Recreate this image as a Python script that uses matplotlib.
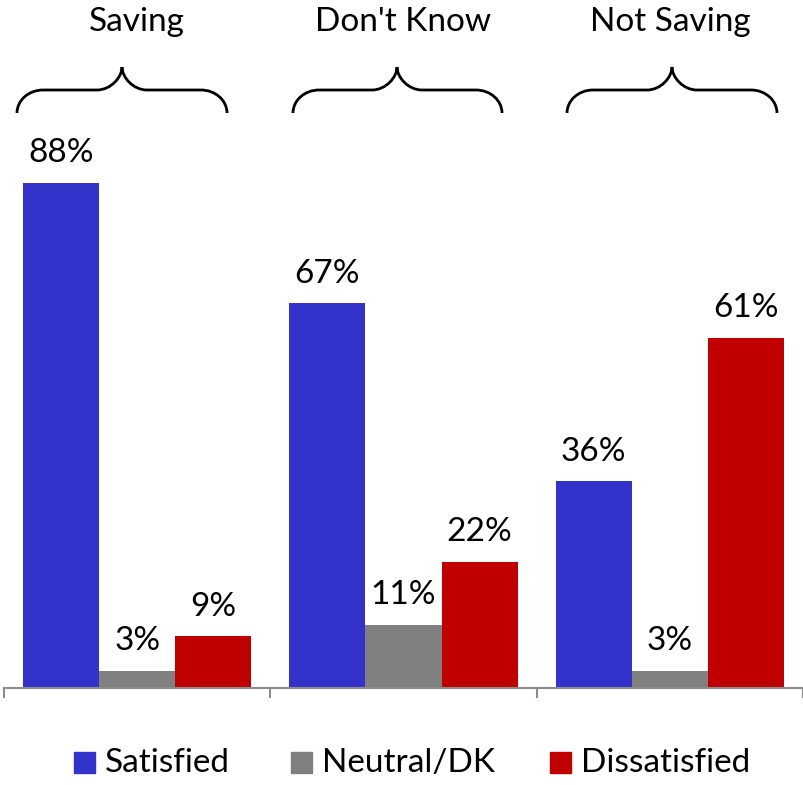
import numpy as np
import matplotlib
matplotlib.use("Agg")
from matplotlib import pyplot as plt
from matplotlib.path import Path
from matplotlib.patches import PathPatch, Rectangle

plt.rcParams['font.family'] = ['Lato', 'DejaVu Sans']

groups = ["Saving", "Don't Know", "Not Saving"]
series = ["Satisfied", "Neutral/DK", "Dissatisfied"]
satisfied = [88, 67, 36]
neutral = [3, 11, 3]
dissatisfied = [9, 22, 61]
colors = ['#3333CC', '#808080', '#C00000']

fs = 24

fig = plt.figure(figsize=(8.04, 7.85), dpi=100)
ax = fig.add_axes([4/804, 1-688/785, 799/804, (688-130)/785])

bw = 2/7
x = np.arange(len(groups))
values = [satisfied, neutral, dissatisfied]
for i, (vals, col) in enumerate(zip(values, colors)):
    pos = x + 1/14 + bw*i + bw/2
    bars = ax.bar(pos, vals, width=bw, color=col, edgecolor='none')
    for b, v in zip(bars, vals):
        ax.annotate(f"{v}%", (b.get_x() + b.get_width()/2, v), xytext=(0, 15),
                    textcoords='offset points', ha='center', va='baseline', fontsize=fs)

ax.set_xlim(0, 3)
ax.set_ylim(0, (688-130)/5.74)
for s in ['top', 'left', 'right']:
    ax.spines[s].set_visible(False)
ax.spines['bottom'].set_color('#8C8C8C')
ax.spines['bottom'].set_linewidth(1.5)
ax.set_xticks([0, 1, 2, 3])
ax.set_xticklabels([])
ax.tick_params(axis='x', direction='out', length=7.5, width=1.5, color='#8C8C8C')
ax.set_yticks([])

# group titles above the braces, centred on each group
for xi, g in zip(x, groups):
    ax.annotate(g, (xi + 0.5, 1), xycoords=('data', 'figure fraction'),
                xytext=(0, -22), textcoords='offset pixels',
                ha='center', va='center', fontsize=fs, annotation_clip=False)

# overlay in pixel coords for braces and legend
ov = fig.add_axes([0, 0, 1, 1])
ov.set_xlim(0, 804)
ov.set_ylim(785, 0)
ov.axis('off')

def brace(x0, xc, x1, ytop=67, ymid=90, ybot=113):
    k = 0.552
    ro, rt = 26, 25          # horizontal radii of end and tip curves
    ho, ht = ybot - ymid, ymid - ytop
    verts = [(x0, ybot), (x0, ybot - k*ho), (x0 + ro - k*ro, ymid), (x0 + ro, ymid),
             (xc - rt, ymid), (xc - rt + k*rt, ymid), (xc, ymid - k*ht), (xc, ytop),
             (xc, ymid - k*ht), (xc + rt - k*rt, ymid), (xc + rt, ymid),
             (x1 - ro, ymid), (x1 - ro + k*ro, ymid), (x1, ybot - k*ho), (x1, ybot)]
    codes = [Path.MOVETO, Path.CURVE4, Path.CURVE4, Path.CURVE4,
             Path.LINETO, Path.CURVE4, Path.CURVE4, Path.CURVE4,
             Path.CURVE4, Path.CURVE4, Path.CURVE4,
             Path.LINETO, Path.CURVE4, Path.CURVE4, Path.CURVE4]
    ov.add_patch(PathPatch(Path(verts, codes), fill=False, lw=2, color='black',
                           capstyle='butt'))

brace_pos = [(17, 122, 227), (293, 397, 502), (567, 672, 777)]
for x0, xc, x1 in brace_pos:
    brace(x0, xc, x1)

leg_x = [74, 291, 550]
for lx, name, col in zip(leg_x, series, colors):
    ov.add_patch(Rectangle((lx, 752), 21, 21, color=col))
    ov.text(lx + 31, 763, name, ha='left', va='center', fontsize=fs)

fig.savefig('out.png', dpi=100)
